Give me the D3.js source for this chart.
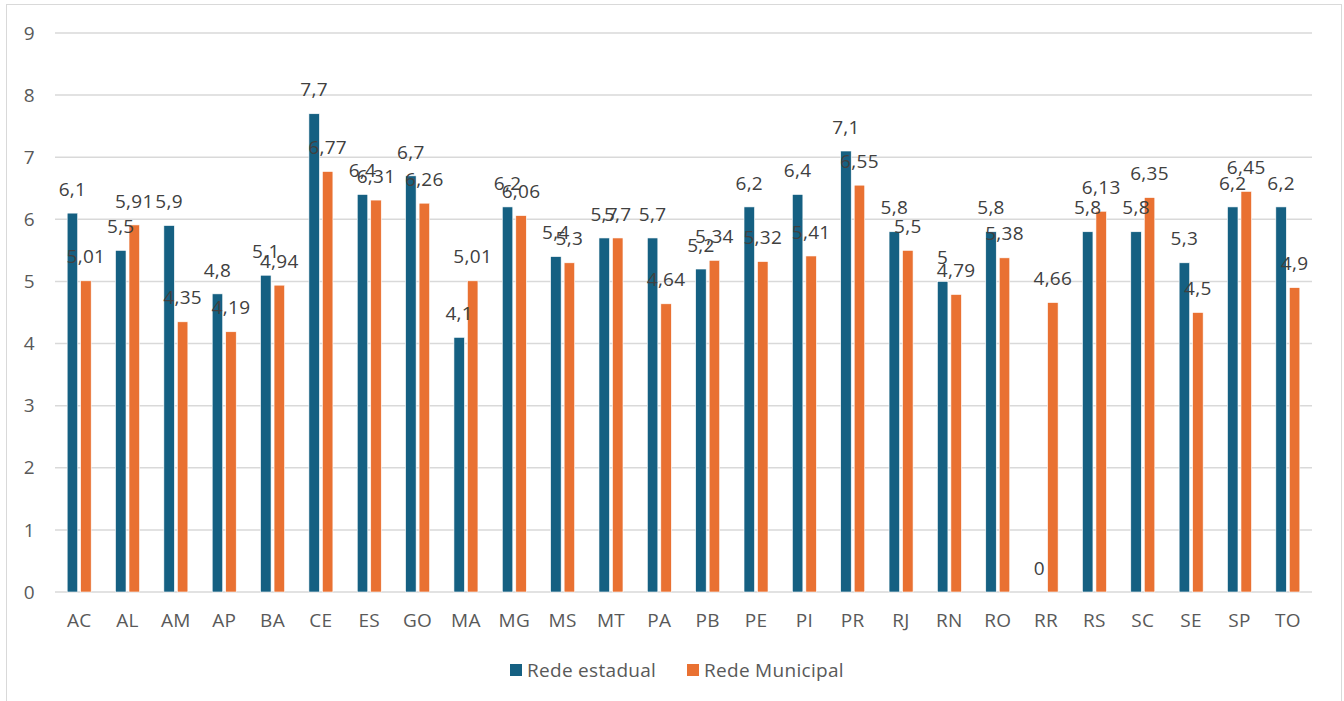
<!DOCTYPE html>
<html lang="pt">
<head>
    <meta charset="UTF-8">
    <title>Rede estadual x Rede Municipal</title>
    <script src="https://d3js.org/d3.v7.min.js"></script>
    <style>
        body {
            margin: 0;
            background: #fff;
            font-family: "Open Sans", "Liberation Sans", sans-serif;
        }
        .tick-label { font-size: 19px; fill: #595959; letter-spacing: 0.3px; }
        .value-label { font-size: 19px; fill: #404040; text-anchor: middle; letter-spacing: 0.3px; }
        .legend-label { font-size: 19px; fill: #595959; letter-spacing: 0.3px; }
    </style>
</head>
<body>
    <div id="chart"></div>
    <script>
        const width = 1344;
        const height = 701;

        // data
        const estados = ["AC","AL","AM","AP","BA","CE","ES","GO","MA","MG","MS","MT","PA",
                         "PB","PE","PI","PR","RJ","RN","RO","RR","RS","SC","SE","SP","TO"];
        const redeEstadual = [6.1,5.5,5.9,4.8,5.1,7.7,6.4,6.7,4.1,6.2,5.4,5.7,5.7,
                              5.2,6.2,6.4,7.1,5.8,5,5.8,0,5.8,5.8,5.3,6.2,6.2];
        const redeMunicipal = [5.01,5.91,4.35,4.19,4.94,6.77,6.31,6.26,5.01,6.06,5.3,5.7,4.64,
                               5.34,5.32,5.41,6.55,5.5,4.79,5.38,4.66,6.13,6.35,4.5,6.45,4.9];
        const seriesNames = ["Rede estadual", "Rede Municipal"];
        const seriesColors = ["#156082", "#E97132"];
        const yTicks = [0,1,2,3,4,5,6,7,8,9];

        const margin = { left: 55, right: 32, top: 33, plotBottom: 592 };

        const svg = d3.select("#chart").append("svg")
            .attr("width", width)
            .attr("height", height);

        // chart frame
        svg.append("rect")
            .attr("x", 6.5).attr("y", 4.5)
            .attr("width", 1335).attr("height", 720)
            .attr("fill", "none")
            .attr("stroke", "#d9d9d9");

        const x0 = d3.scaleBand()
            .domain(estados)
            .range([margin.left, width - margin.right]);

        const groupW = 24;
        const x1 = d3.scaleBand()
            .domain(seriesNames)
            .range([(x0.bandwidth() - groupW) / 2, (x0.bandwidth() + groupW) / 2])
            .paddingInner(0.222);

        const y = d3.scaleLinear()
            .domain([0, 9])
            .range([margin.plotBottom, margin.top]);

        // gridlines
        svg.append("g")
            .selectAll("line")
            .data(yTicks)
            .join("line")
            .attr("x1", margin.left)
            .attr("x2", width - margin.right)
            .attr("y1", d => y(d))
            .attr("y2", d => y(d))
            .attr("stroke", "#d9d9d9")
            .attr("stroke-width", 1.5);

        // y labels
        svg.append("g")
            .selectAll("text")
            .data(yTicks)
            .join("text")
            .attr("class", "tick-label")
            .attr("x", 35)
            .attr("y", d => y(d))
            .attr("dy", "0.35em")
            .attr("text-anchor", "end")
            .text(d => d);

        // x labels
        svg.append("g")
            .selectAll("text")
            .data(estados)
            .join("text")
            .attr("class", "tick-label")
            .attr("x", d => x0(d) + x0.bandwidth() / 2)
            .attr("y", 620)
            .attr("dy", "0.35em")
            .attr("text-anchor", "middle")
            .text(d => d);

        const rows = estados.map((e, i) => ({
            estado: e,
            values: [redeEstadual[i], redeMunicipal[i]]
        }));

        const fmt = v => String(v).replace(".", ",");

        const groups = svg.append("g")
            .selectAll("g")
            .data(rows)
            .join("g")
            .attr("transform", d => `translate(${x0(d.estado)},0)`);

        groups.selectAll("rect")
            .data(d => d.values.map((v, k) => ({ name: seriesNames[k], value: v, k })))
            .join("rect")
            .attr("x", d => x1(d.name))
            .attr("width", x1.bandwidth())
            .attr("y", d => y(d.value))
            .attr("height", d => y(0) - y(d.value))
            .attr("fill", d => seriesColors[d.k])
            .attr("stroke", "#fff")
            .attr("stroke-width", 0.6);

        groups.selectAll("text")
            .data(d => d.values.map((v, k) => ({ name: seriesNames[k], value: v, k })))
            .join("text")
            .attr("class", "value-label")
            .attr("x", d => x1(d.name) + x1.bandwidth() / 2)
            .attr("y", d => y(d.value) - 24)
            .attr("dy", "0.35em")
            .text(d => fmt(d.value));

        // legend
        const legendX = [510, 687];
        const legend = svg.append("g")
            .selectAll("g")
            .data(seriesNames)
            .join("g")
            .attr("transform", (d, i) => `translate(${legendX[i]},664)`);

        legend.append("rect")
            .attr("width", 12).attr("height", 12)
            .attr("fill", (d, i) => seriesColors[i]);

        legend.append("text")
            .attr("class", "legend-label")
            .attr("x", 17)
            .attr("y", 6)
            .attr("dy", "0.35em")
            .text(d => d);
    </script>
</body>
</html>
